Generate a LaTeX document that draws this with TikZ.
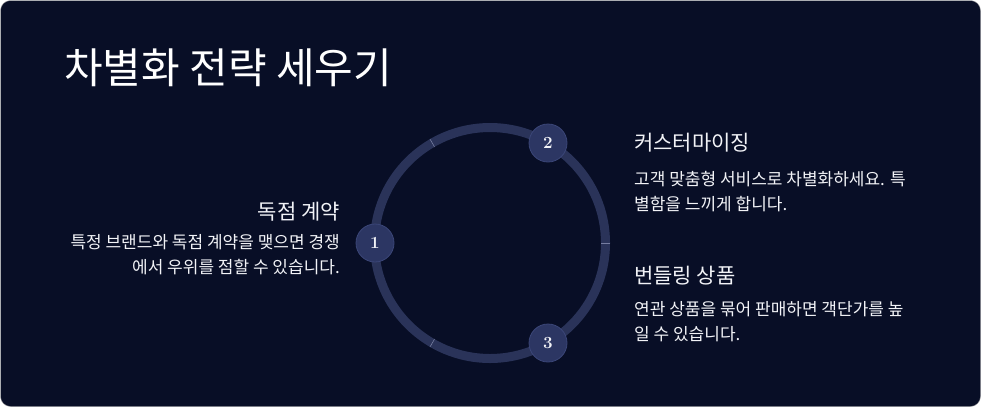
\documentclass[tikz,border=0pt]{standalone}
\usepackage{fontspec}
\usetikzlibrary{calc}
\newfontfamily\kr{Noto Sans CJK KR}
\definecolor{bgnavy}{HTML}{080E26}
\definecolor{ringc}{HTML}{2A3359}
\definecolor{badgec}{HTML}{2C3663}
\definecolor{badgeline}{HTML}{3B4678}
\definecolor{textc}{HTML}{F2F3F7}
\tikzset{
  badge/.style={circle,fill=badgec,draw=badgeline,line width=0.8pt,minimum size=38pt,inner sep=0pt,text=textc,font=\fontsize{17}{17}\selectfont\bfseries},
  heading/.style={text=textc,font=\kr\fontsize{21}{24}\selectfont,inner sep=0pt},
  bodytext/.style={text=textc,font=\kr\fontsize{17}{25.5}\selectfont,inner sep=0pt,align=left},
}
\begin{document}
\begin{tikzpicture}[x=1pt,y=-1pt]
  \fill[bgnavy,draw=gray!60,rounded corners=10pt] (0.5,0.5) rectangle (980.5,406.5);
  \useasboundingbox (0,0) rectangle (981,407);
  \node[anchor=west,text=white,font=\kr\fontsize{42}{46}\selectfont,inner sep=0pt] (title) at (64,68) {차별화 전략 세우기};
  % ring
  \coordinate (C) at (490,243);
  \draw[ringc,line width=9pt] (C) circle (115.5);
  \foreach \a in {0,120,240}
    \draw[badgeline!70,line width=0.6pt] ($(C)+(\a:111)$) -- ($(C)+(\a:120)$);
  \node[badge] (b1) at (375,243) {1};
  \node[badge] (b2) at (548,143) {2};
  \node[badge] (b3) at (548,343) {3};
  % left
  \node[heading,anchor=east] (h1) at (340,212) {독점 계약};
  \node[bodytext,anchor=north east,align=right] (t1) at (340,234) {특정 브랜드와 독점 계약을 맺으면 경쟁\\에서 우위를 점할 수 있습니다.};
  % right
  \node[heading,anchor=west] (h2) at (634,143) {커스터마이징};
  \node[bodytext,anchor=north west] (t2) at (634,171) {고객 맞춤형 서비스로 차별화하세요. 특\\별함을 느끼게 합니다.};
  \node[heading,anchor=west] (h3) at (634,276) {번들링 상품};
  \node[bodytext,anchor=north west] (t3) at (634,301) {연관 상품을 묶어 판매하면 객단가를 높\\일 수 있습니다.};
\end{tikzpicture}
\end{document}
